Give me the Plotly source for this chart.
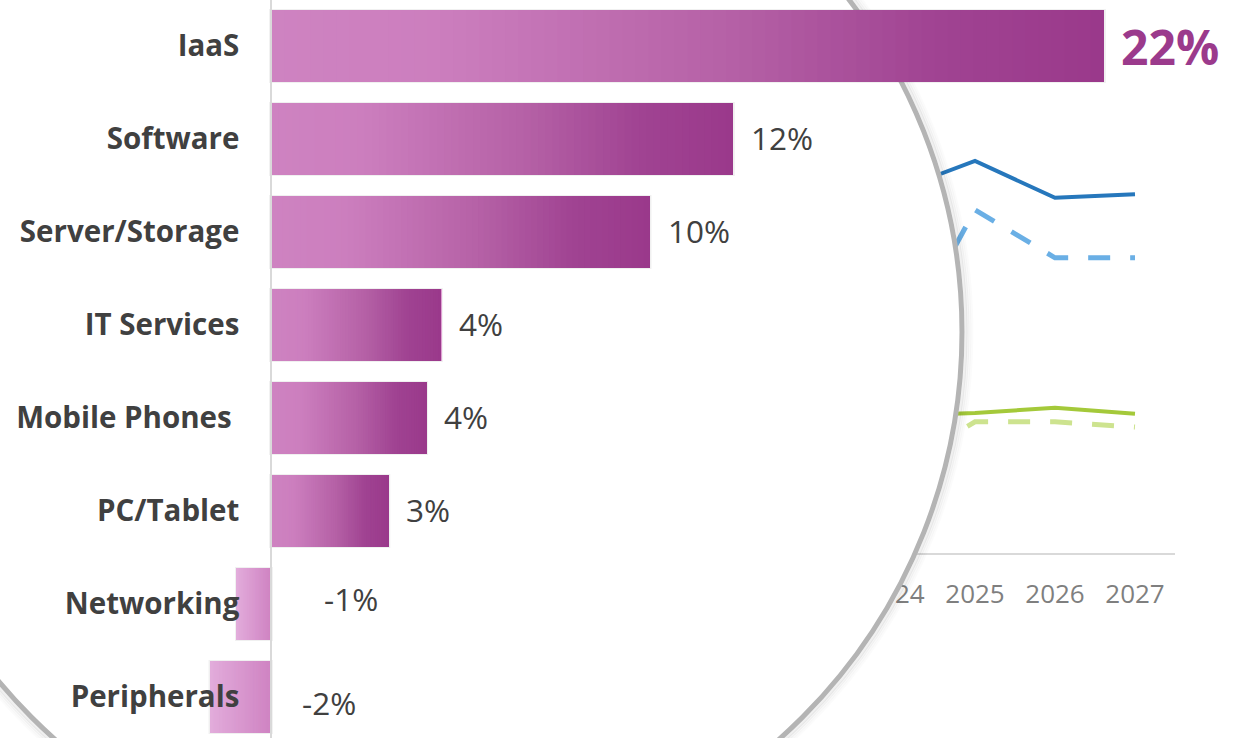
import plotly.graph_objects as go

W, H = 1247, 738

# --- bar data: growth by segment (%) ---
categories = ["IaaS", "Software", "Server/Storage", "IT Services",
              "Mobile Phones\u00a0", "PC/Tablet", "Networking", "Peripherals"]
growth = [22.0, 12.2, 10.0, 4.49, 4.1, 3.1, -0.9, -1.6]

# --- background trend lines (%) ---
years = ["2024", "2025", "2026", "2027"]
blue_solid = [9.05, 9.80, 8.88, 8.97]
blue_dashed = [4.90, 8.58, 7.38, 7.38]
green_solid = [3.43, 3.50, 3.63, 3.48]
green_dashed = [2.10, 3.28, 3.28, 3.15]

FONT = "Open Sans"
LABEL_GREY = "#404040"
PURPLE = "#9b3a8c"

# layout geometry (pixels)
AXIS_PX = 271           # bar baseline
PX_PER_UNIT = 833 / 22  # bar scale
ROW0, ROW_PITCH = 46, 93
BAR_W = 72 / 93
LENS_CX, LENS_CY, LENS_R = 417, 332, 545
LINE_AX_Y = 553
LINE_PX_PER_UNIT = 40

POS_STOPS = [(0.0, (206, 131, 193)), (0.2, (204, 126, 190)), (0.55, (181, 97, 166)),
             (0.8, (160, 67, 146)), (1.0, (154, 57, 139))]
NEG_STOPS = [(0.0, (207, 131, 194)), (1.0, (226, 172, 219))]


def grad(stops, t):
    for (t0, c0), (t1, c1) in zip(stops[:-1], stops[1:]):
        if t <= t1:
            f = (t - t0) / (t1 - t0)
            c = [round(a + (b - a) * f) for a, b in zip(c0, c1)]
            return f"rgb({c[0]},{c[1]},{c[2]})"
    c = stops[-1][1]
    return f"rgb({c[0]},{c[1]},{c[2]})"


fig = go.Figure()

# ---- subplot 1: trend lines behind the lens ----
line_specs = [
    (blue_solid, "#2677bc", 4, "solid"),
    (blue_dashed, "#6aafe5", 5, "22px,20px"),
    (green_solid, "#a4c93a", 4, "solid"),
    (green_dashed, "#cde38f", 5, "22px,20px"),
]
for vals, col, wdt, dash in line_specs:
    fig.add_trace(go.Scatter(x=years, y=vals, mode="lines",
                             line=dict(color=col, width=wdt, dash=dash),
                             xaxis="x", yaxis="y", hoverinfo="skip", showlegend=False))

# ---- subplot 2: lens (pixel space) ----
fig.add_trace(go.Scatter(x=[], y=[], xaxis="x2", yaxis="y2", showlegend=False, hoverinfo="skip"))

shapes = []
for dr, alpha in [(10, 0.015), (8, 0.025), (6, 0.04), (4, 0.06)]:
    r = LENS_R + dr
    shapes.append(dict(type="circle", xref="x2", yref="y2", layer="below",
                       x0=LENS_CX - r, x1=LENS_CX + r, y0=LENS_CY - r, y1=LENS_CY + r,
                       line=dict(color=f"rgba(0,0,0,{alpha})", width=3), fillcolor="rgba(0,0,0,0)"))
shapes.append(dict(type="circle", xref="x2", yref="y2", layer="below",
                   x0=LENS_CX - LENS_R, x1=LENS_CX + LENS_R,
                   y0=LENS_CY - LENS_R, y1=LENS_CY + LENS_R,
                   line=dict(color="#b4b4b4", width=5), fillcolor="white"))

# ---- subplot 3: gradient bars ----
# soft shadow behind each bar
pad = 0.05
fig.add_trace(go.Bar(x=[abs(v) + 2 * pad for v in growth], y=categories,
                     base=[min(0, v) - pad for v in growth], orientation="h",
                     width=BAR_W + 0.02, marker=dict(color="rgba(0,0,0,0.06)", line_width=0),
                     xaxis="x3", yaxis="y3", hoverinfo="skip", showlegend=False))

N = 64
for k in range(N):
    t = k / N
    tc = (k + 0.5) / N
    fig.add_trace(go.Bar(
        x=[v * (1 - t) for v in growth], y=categories, base=[v * t for v in growth],
        orientation="h", width=BAR_W,
        marker=dict(color=[grad(POS_STOPS if v >= 0 else NEG_STOPS, tc) for v in growth], line_width=0),
        xaxis="x3", yaxis="y3", hoverinfo="skip", showlegend=False))

# value labels
top = max(growth)
annotations = []
for cat, v in zip(categories, growth):
    txt = f"{v:.0f}%"
    if v == top:
        font = dict(family=FONT, size=48, color=PURPLE, weight=700)
        xs, ys, xv = 15, 0, v
    elif v >= 0:
        font = dict(family=FONT, size=31.5, color=LABEL_GREY)
        xs, ys, xv = 16, 2, v
    else:
        # negative values are labelled on the positive side of the baseline
        font = dict(family=FONT, size=31.5, color=LABEL_GREY)
        xs, ys, xv = 80 + 32 * v, 6 + (v + 0.9) * 17, 0
    annotations.append(dict(x=xv, y=cat, xref="x3", yref="y3", text=txt, showarrow=False,
                            xanchor="left", yanchor="middle", xshift=xs, yshift=ys, font=font))

fig.update_layout(
    width=W, height=H, margin=dict(l=0, r=0, t=0, b=0),
    paper_bgcolor="white", plot_bgcolor="rgba(0,0,0,0)",
    barmode="overlay", showlegend=False,
    shapes=shapes, annotations=annotations,
    xaxis=dict(domain=[615 / W, 1175 / W], type="category", range=[-3.5, 3.5],
               showgrid=False, zeroline=False, showline=True, linecolor="#d9d9d9", linewidth=1.5,
               ticks="", ticklabelstandoff=17,
               tickfont=dict(family=FONT, size=26, color="#7f7f7f"), anchor="y"),
    yaxis=dict(domain=[(H - LINE_AX_Y) / H, 1], range=[0, LINE_AX_Y / LINE_PX_PER_UNIT],
               visible=False, anchor="x"),
    xaxis2=dict(domain=[0, 1], range=[0, W], visible=False, anchor="y2"),
    yaxis2=dict(domain=[0, 1], range=[H, 0], visible=False, anchor="x2"),
    xaxis3=dict(domain=[0, 1], range=[-AXIS_PX / PX_PER_UNIT, (W - AXIS_PX) / PX_PER_UNIT],
                visible=False, anchor="y3"),
    yaxis3=dict(domain=[0, 1], type="category", categoryorder="array", categoryarray=categories,
                range=[(H - ROW0) / ROW_PITCH, -ROW0 / ROW_PITCH],
                anchor="free", position=AXIS_PX / W, showgrid=False, zeroline=False,
                showline=True, linecolor="#d9d9d9", linewidth=1.5, ticks="",
                ticklabelstandoff=25,
                tickfont=dict(family=FONT, size=29.5, color=LABEL_GREY, weight=700)),
)

fig.write_html("out.html")
